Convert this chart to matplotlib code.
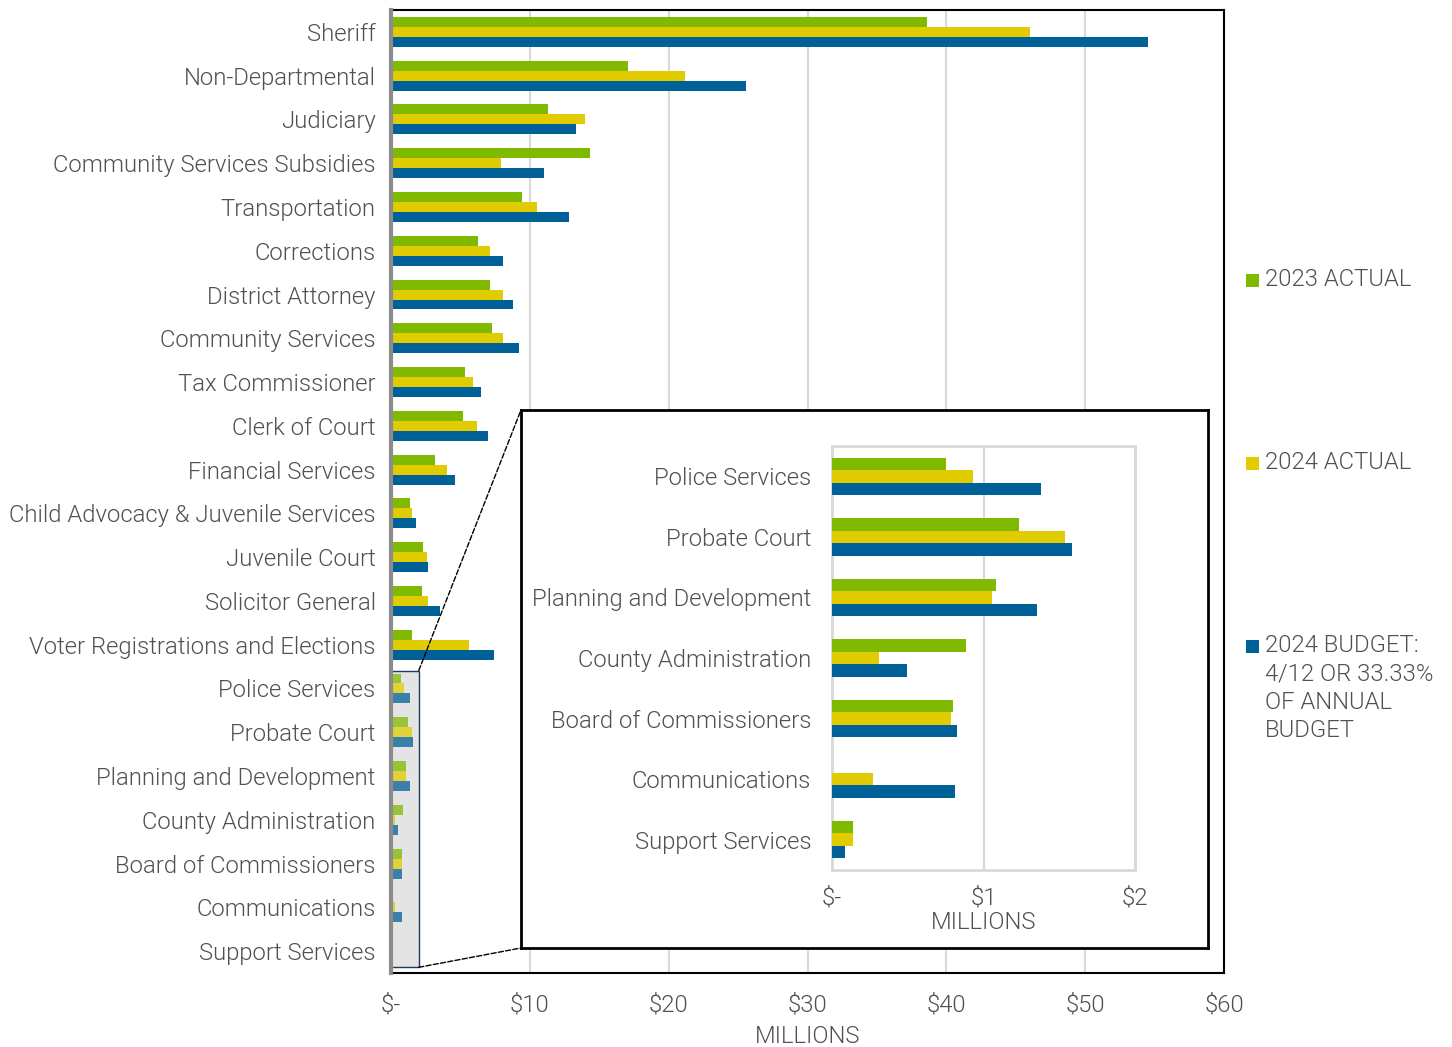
import numpy as np
import matplotlib
matplotlib.use("Agg")
import matplotlib.pyplot as plt
from matplotlib.patches import Rectangle, ConnectionPatch

plt.rcParams['font.family'] = ['Roboto', 'DejaVu Sans']
plt.rcParams['font.weight'] = 300
plt.rcParams['axes.labelweight'] = 300

departments = ["Sheriff", "Non-Departmental", "Judiciary", "Community Services Subsidies",
               "Transportation", "Corrections", "District Attorney", "Community Services",
               "Tax Commissioner", "Clerk of Court", "Financial Services",
               "Child Advocacy & Juvenile Services", "Juvenile Court", "Solicitor General",
               "Voter Registrations and Elections", "Police Services", "Probate Court",
               "Planning and Development", "County Administration", "Board of Commissioners",
               "Communications", "Support Services"]

# millions of dollars
actual_2023 = [38.6, 17.1, 11.3, 14.3, 9.4, 6.3, 7.1, 7.3, 5.3, 5.2, 3.2, 1.4, 2.3, 2.2, 1.5,
               0.755, 1.236, 1.081, 0.883, 0.801, 0.0, 0.137]
actual_2024 = [46.0, 21.2, 14.0, 7.9, 10.5, 7.1, 8.1, 8.1, 5.9, 6.2, 4.0, 1.5, 2.6, 2.7, 5.6,
               0.929, 1.540, 1.053, 0.313, 0.783, 0.273, 0.139]
budget_2024 = [54.5, 25.6, 13.3, 11.0, 12.8, 8.1, 8.8, 9.2, 6.5, 7.0, 4.6, 1.8, 2.7, 3.5, 7.4,
               1.381, 1.585, 1.355, 0.497, 0.825, 0.810, 0.086]

series_names = ["2023 ACTUAL", "2024 ACTUAL", "2024 BUDGET:\n4/12 OR 33.33%\nOF ANNUAL\nBUDGET"]
colors = ["#7fba00", "#e0cc00", "#006098"]
main_ticks = [0, 10, 20, 30, 40, 50, 60]
main_ticklabels = ["$-", "$10", "$20", "$30", "$40", "$50", "$60"]
inset_ticks = [0, 1, 2]
inset_ticklabels = ["$-", "$1", "$2"]

txt = "#505050"
fs = 17.2
W, H = 1452, 1047
fig = plt.figure(figsize=(W / 100, H / 100), dpi=100)


def box(x0, y0, x1, y1):
    return [x0 / W, 1 - y1 / H, (x1 - x0) / W, (y1 - y0) / H]


series = [actual_2023, actual_2024, budget_2024]
n_big = 15

# ---- main chart
ax = fig.add_axes(box(391, 10, 1224, 973))
y = np.arange(len(departments))
h = 0.228
for k, (vals, c) in enumerate(zip(series, colors)):
    off = (k - 1) * h
    ax.barh(y[:n_big] + off, vals[:n_big], height=h, color=c, zorder=3)
    ax.barh(y[n_big:] + off, vals[n_big:], height=h, color=c, alpha=0.75, zorder=3)

ax.add_patch(Rectangle((-0.1, n_big - 0.41), 2.1, 6.78, facecolor="#e4e4e4",
                       edgecolor="#1f3864", linewidth=1, zorder=2))
ax.set_xlim(0, 60)
ax.set_ylim(len(departments) - 0.5, -0.5)
ax.set_yticks(y)
ax.set_yticklabels(departments, fontsize=fs, color=txt)
ax.set_xticks(main_ticks)
ax.set_xticklabels(main_ticklabels, fontsize=fs, color=txt)
ax.tick_params(axis="y", length=0, pad=11)
ax.tick_params(axis="x", length=0, pad=15)
ax.set_xlabel("MILLIONS", fontsize=fs, color=txt, labelpad=6)
ax.grid(axis="x", color="#d9d9d9", linewidth=1.5, zorder=0)
ax.set_axisbelow(True)
for s in ["top", "right", "bottom"]:
    ax.spines[s].set_color("black")
    ax.spines[s].set_linewidth(1.5)
ax.spines["left"].set_color("#8c8c8c")
ax.spines["left"].set_linewidth(3)
ax.spines["left"].set_zorder(5)

# ---- inset frame
frame = fig.add_axes(box(521, 410, 1208, 948))
frame.set_xticks([])
frame.set_yticks([])
for s in frame.spines.values():
    s.set_linewidth(2)
    s.set_color("black")

ins = fig.add_axes(box(832, 446, 1135, 870))
yi = np.arange(len(departments) - n_big)
hi = 0.206
for k, (vals, c) in enumerate(zip(series, colors)):
    ins.barh(yi + (k - 1) * hi, vals[n_big:], height=hi, color=c, zorder=3)
ins.set_xlim(0, 2)
ins.set_ylim(len(yi) - 0.5, -0.5)
ins.set_yticks(yi)
ins.set_yticklabels(departments[n_big:], fontsize=fs, color=txt)
ins.set_xticks(inset_ticks)
ins.set_xticklabels(inset_ticklabels, fontsize=fs, color=txt)
ins.tick_params(axis="y", length=0, pad=15)
ins.tick_params(axis="x", length=0, pad=12)
ins.set_xlabel("MILLIONS", fontsize=fs, color=txt, labelpad=1)
ins.grid(axis="x", color="#d9d9d9", linewidth=1.5, zorder=0)
ins.set_axisbelow(True)
for s in ins.spines.values():
    s.set_color("#d9d9d9")
    s.set_linewidth(2)

# connector lines
for ya, yb in [(n_big - 0.41, 1), (n_big - 0.41 + 6.78, 0)]:
    con = ConnectionPatch(xyA=(2.0, ya), coordsA=ax.transData, xyB=(0, yb),
                          coordsB=frame.transAxes, linestyle="--", color="black",
                          linewidth=1)
    fig.add_artist(con)

# ---- legend
for name, c, yy in zip(series_names, colors, [280, 463, 646]):
    fig.add_artist(Rectangle((1246 / W, 1 - (yy + 6.5) / H), 13 / W, 13 / H,
                             facecolor=c, edgecolor="none", transform=fig.transFigure))
    fig.text(1265 / W, 1 - (yy - 12) / H, name, fontsize=fs, color=txt,
             va="top", ha="left", linespacing=1.3)

fig.savefig("out.png", dpi=100)
